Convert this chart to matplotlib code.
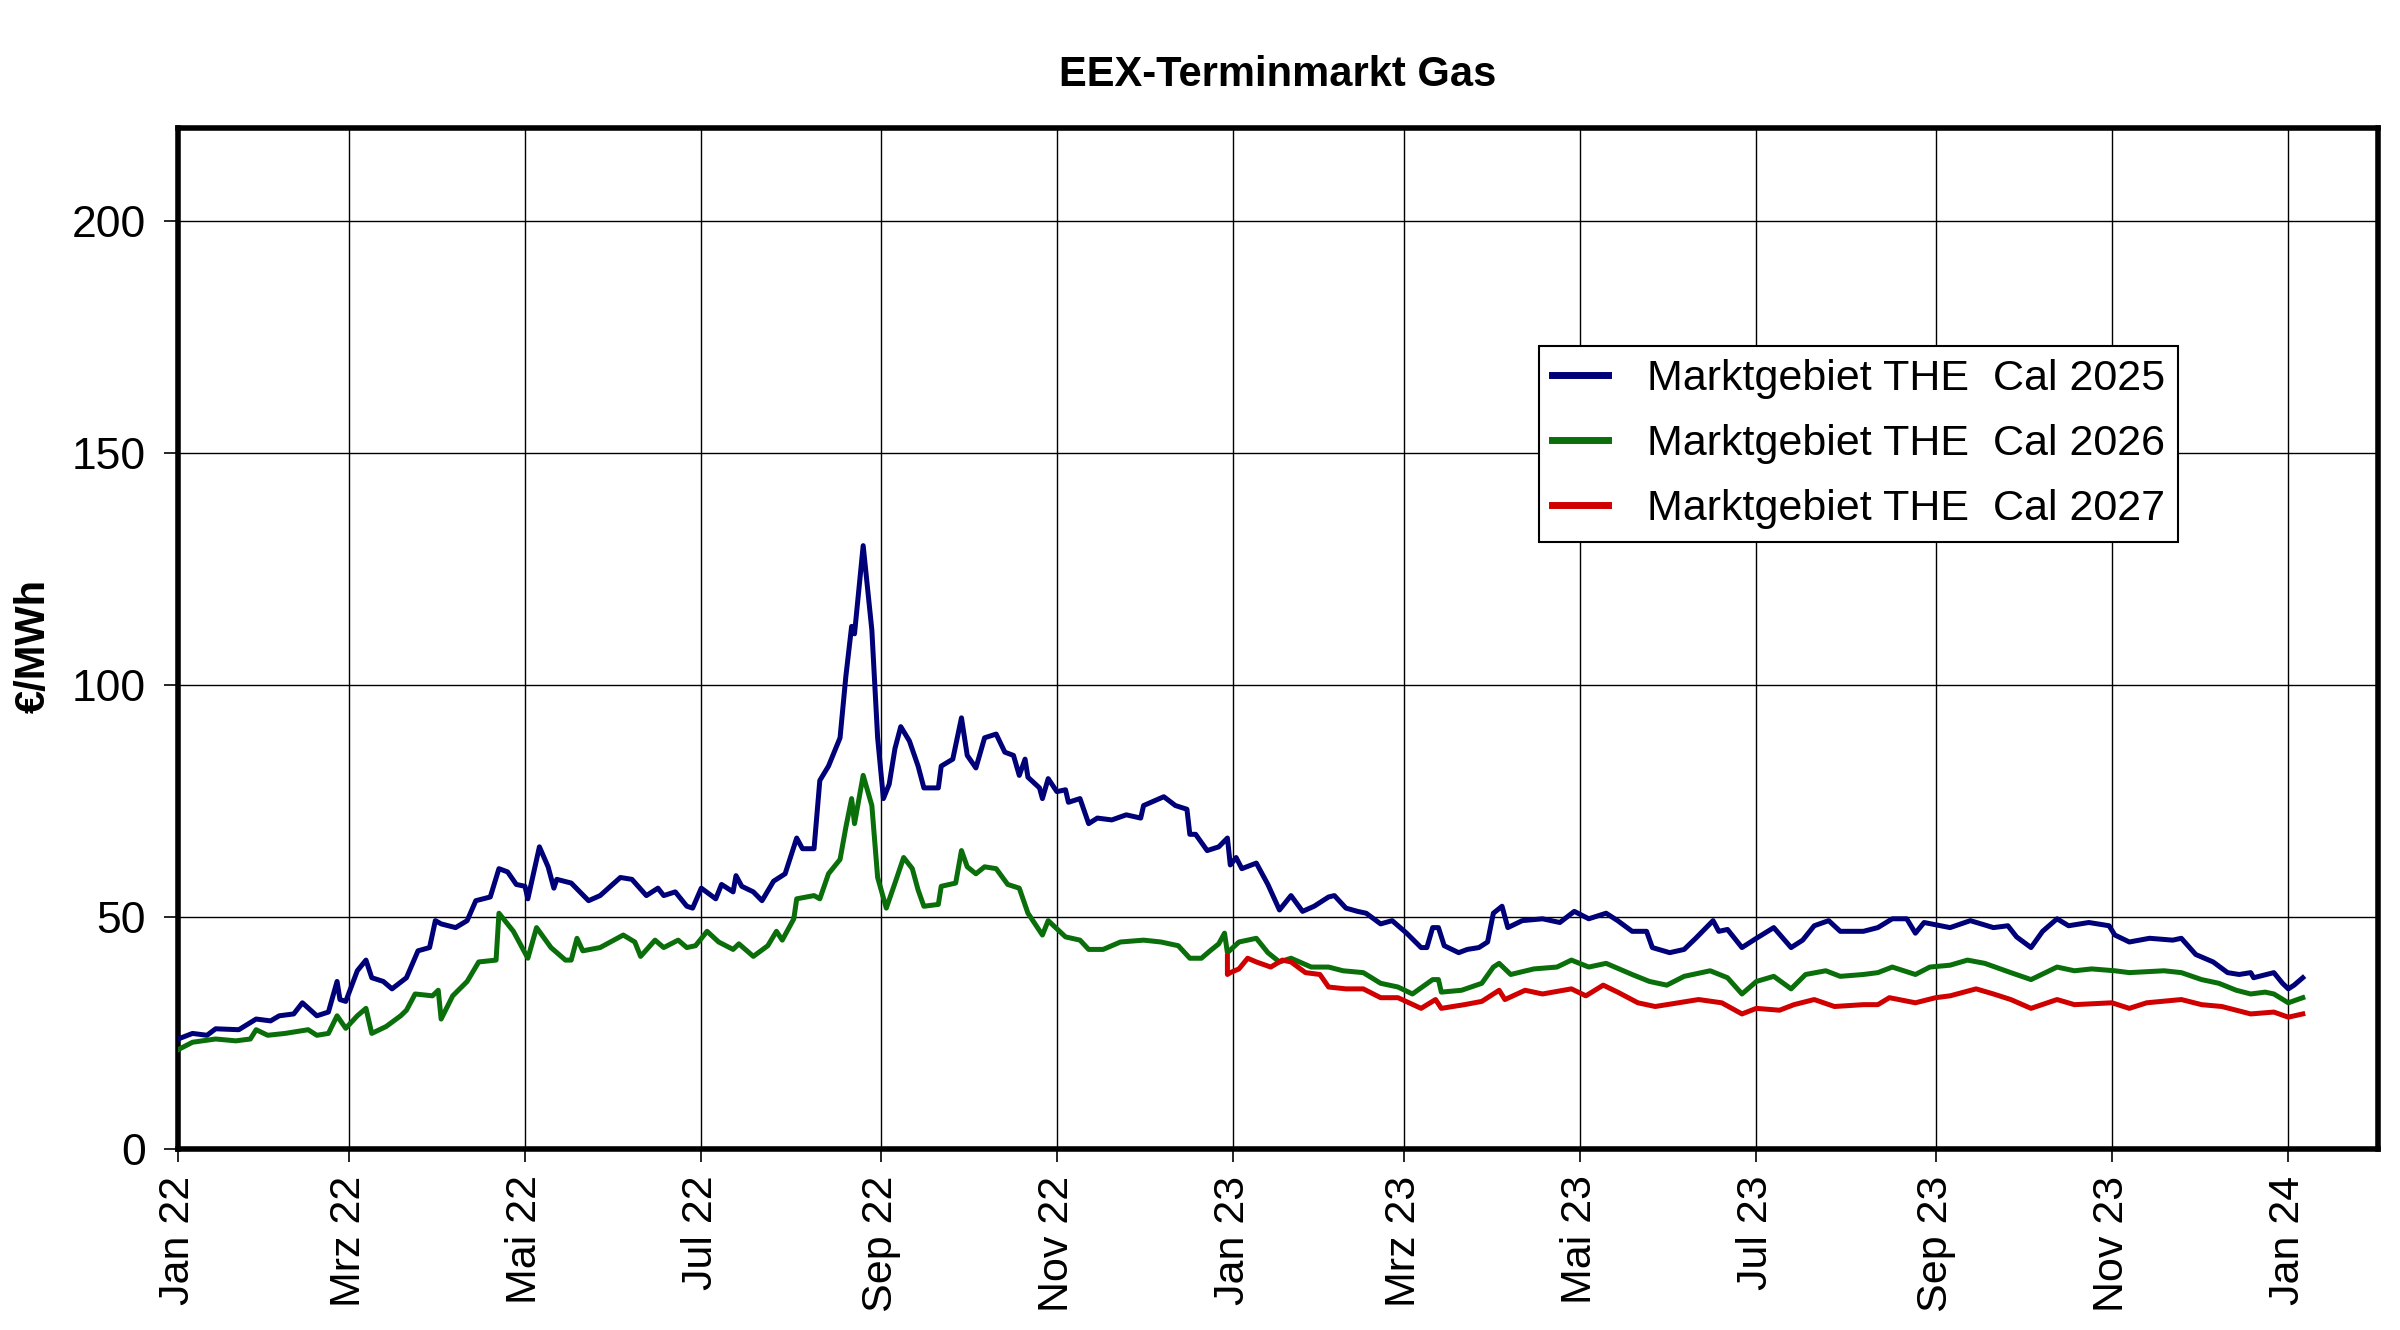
import numpy as np
import matplotlib
matplotlib.use("Agg")
import matplotlib.pyplot as plt

plt.rcParams['font.family'] = ['Liberation Sans', 'DejaVu Sans']

# days since 2022-01-01 and prices in EUR/MWh
cal25_days = [0, 5, 10, 13, 21, 27, 32, 35, 40, 43, 48, 52, 55, 56, 58, 62, 65, 67, 71, 74,
              79, 83, 87, 89, 91, 96, 100, 103, 108, 111, 114, 117, 120, 121, 125, 128, 130, 131, 136, 142,
              146, 153, 157, 162, 166, 168, 172, 176, 178, 181, 186, 188,
              192, 193, 195, 199, 202, 206, 210, 214, 216, 220, 222, 225, 229, 231, 233, 234, 237, 240, 242, 244,
              246, 248, 250, 253, 256, 258, 263, 264, 268, 271, 273, 276, 279, 283, 286, 289, 291, 293, 294, 298,
              299, 301, 304, 307, 308, 312, 315, 318, 323, 328, 333, 334, 341, 345, 349, 350, 352, 356, 360, 363,
              364, 366, 368, 373, 377, 381,
              385, 389, 393, 398, 400, 404, 408, 411, 416, 420, 425, 430, 432, 434, 436, 438, 443, 446, 450, 453,
              455, 458, 460, 465, 472, 478, 483, 488, 494, 498, 503, 508, 510, 516, 521, 525, 531, 533, 536, 541,
              546, 552, 558, 562, 566, 571, 575,
              583, 588, 593, 598, 601, 604, 613, 620, 628, 633, 636, 641, 645, 650, 654, 661, 668, 670, 675, 682,
              690, 693, 698, 704, 709, 713, 717, 718, 725, 728, 730, 732, 735]
cal25 = [23.7, 24.9, 24.5, 25.9, 25.7, 28.0, 27.6, 28.7, 29.1, 31.5, 28.7, 29.5, 36.1, 32.2, 31.8, 38.4, 40.7, 36.9, 36.1, 34.5,
         36.9, 42.7, 43.4, 49.2, 48.5, 47.7, 49.2, 53.5, 54.3, 60.4, 59.7, 57.0, 56.6, 53.9, 65.1, 60.8, 56.2, 58.1, 57.3, 53.5,
         54.6, 58.5, 58.1, 54.6, 56.2, 54.6, 55.4, 52.3, 51.9, 56.2, 53.9, 57.0,
         55.4, 58.9, 56.6, 55.4, 53.5, 57.7, 59.3, 67.0, 64.7, 64.7, 79.4, 82.5, 88.6, 101.8, 112.6, 111.0, 130.0, 111.8, 88.6, 75.5,
         78.6, 86.3, 91.0, 87.9, 82.5, 77.8, 77.8, 82.5, 84.0, 92.9, 84.8, 82.1, 88.6, 89.4, 85.5, 84.8, 80.5, 84.0, 80.1, 77.8,
         75.5, 79.8, 77.0, 77.4, 74.7, 75.5, 70.1, 71.3, 70.9, 72.0, 71.3, 74.0, 75.9, 74.0, 73.2, 67.8, 67.8, 64.3, 65.1, 67.0,
         61.2, 62.8, 60.4, 61.6, 57.0, 51.5,
         54.6, 51.2, 52.3, 54.3, 54.6, 51.9, 51.2, 50.8, 48.5, 49.2, 46.5, 43.4, 43.4, 47.7, 47.7, 43.8, 42.3, 43.0, 43.4, 44.6,
         50.8, 52.3, 47.7, 49.2, 49.6, 48.8, 51.2, 49.6, 50.8, 49.2, 46.9, 46.9, 43.4, 42.3, 43.0, 45.4, 49.2, 46.9, 47.3, 43.4,
         45.4, 47.7, 43.4, 45.0, 48.1, 49.2, 46.9,
         46.9, 47.7, 49.6, 49.6, 46.5, 48.8, 47.7, 49.2, 47.7, 48.1, 45.7, 43.4, 46.9, 49.6, 48.1, 48.8, 48.1, 46.1, 44.6, 45.4,
         45.0, 45.4, 41.9, 40.3, 38.0, 37.6, 38.0, 36.9, 38.0, 35.7, 34.5, 35.3, 36.9]

cal26_days = [0, 5, 13, 20, 25, 27, 31, 37, 45, 48, 52, 55, 58, 62, 65, 67, 72, 77, 79, 82,
              88, 90, 91, 95, 100, 104, 110, 111, 116, 121, 124, 129, 134, 136, 138, 140, 146, 154, 158, 160,
              165, 168, 173, 176, 179, 183, 187,
              192, 194, 199, 204, 207, 209, 213, 214, 220, 222, 225, 229, 231, 233, 234, 237, 240, 242, 245, 248,
              251, 254, 256, 258, 263, 264, 269, 271, 273, 276, 279, 283, 287, 291, 294, 299, 301, 307, 312, 315,
              320, 326, 334, 340, 346, 350, 354, 357, 360, 362, 363, 367, 373, 377, 381,
              385, 392, 398, 403, 410, 416, 422, 427, 434, 436, 437, 444, 451, 455, 457, 461, 469, 477, 482, 488,
              494, 503, 509, 515, 521, 530, 536, 541, 546, 552, 558, 563, 570, 575,
              583, 588, 593, 601, 606, 613, 619, 625, 634, 641, 650, 656, 662, 670, 675, 687, 693, 700, 706, 712,
              717, 722, 725, 730, 735]
cal26 = [21.4, 23.0, 23.7, 23.3, 23.7, 25.7, 24.5, 24.9, 25.7, 24.5, 24.9, 28.7, 26.0, 28.7, 30.3, 24.9, 26.4, 28.7, 29.9, 33.4,
         33.0, 34.2, 28.0, 33.0, 36.1, 40.3, 40.7, 50.8, 46.9, 41.1, 47.7, 43.4, 40.7, 40.7, 45.4, 42.7, 43.4, 46.1, 44.6, 41.5,
         45.0, 43.4, 45.0, 43.4, 43.8, 46.9, 44.6,
         43.0, 44.2, 41.5, 43.8, 46.9, 45.0, 49.6, 53.9, 54.6, 53.9, 59.3, 62.4, 69.3, 75.5, 70.1, 80.5, 74.0, 58.5, 51.9, 57.3,
         62.8, 60.4, 55.8, 52.3, 52.7, 56.6, 57.3, 64.3, 60.8, 59.3, 60.8, 60.4, 57.0, 56.2, 50.8, 46.1, 49.2, 45.7, 45.0, 43.0,
         43.0, 44.6, 45.0, 44.6, 43.8, 41.1, 41.1, 42.7, 44.2, 46.5, 42.3, 44.6, 45.4, 42.3, 40.3,
         41.1, 39.2, 39.2, 38.4, 38.0, 35.7, 34.9, 33.4, 36.5, 36.5, 33.8, 34.2, 35.7, 39.2, 40.0, 37.6, 38.8, 39.2, 40.7, 39.2,
         40.0, 37.6, 36.1, 35.3, 37.2, 38.4, 36.9, 33.4, 36.1, 37.2, 34.5, 37.6, 38.4, 37.2,
         37.6, 38.0, 39.2, 37.6, 39.2, 39.6, 40.7, 40.0, 38.0, 36.5, 39.2, 38.4, 38.8, 38.4, 38.0, 38.4, 38.0, 36.5, 35.7, 34.2,
         33.4, 33.8, 33.4, 31.5, 32.6]

cal27_days = [363, 363, 364, 367, 370, 373, 378, 382,
              385, 390, 395, 398, 404, 410, 416, 422, 430, 435, 437, 445, 451, 457, 459, 466, 472, 482, 487, 493,
              498, 505, 511, 519, 526, 534, 541, 546, 554, 559, 566, 573,
              583, 588, 592, 601, 608, 613, 622, 628, 634, 641, 650, 656, 669, 675, 681, 693, 700, 707, 717, 725,
              730, 735]
cal27 = [41.5, 37.6, 38.0, 38.8, 41.1, 40.3, 39.2, 40.7,
         40.3, 38.0, 37.6, 34.9, 34.5, 34.5, 32.6, 32.6, 30.3, 32.2, 30.3, 31.1, 31.8, 34.2, 32.2, 34.2, 33.4, 34.5, 33.0, 35.3,
         33.8, 31.5, 30.7, 31.5, 32.2, 31.5, 29.1, 30.3, 29.9, 31.1, 32.2, 30.7,
         31.1, 31.1, 32.6, 31.5, 32.6, 33.0, 34.5, 33.4, 32.2, 30.3, 32.2, 31.1, 31.5, 30.3, 31.5, 32.2, 31.1, 30.7, 29.1, 29.5,
         28.4, 29.1]

labels = ['Marktgebiet THE  Cal 2025', 'Marktgebiet THE  Cal 2026', 'Marktgebiet THE  Cal 2027']
colors = ['#000078', '#0a6e0a', '#d00000']

tick_dates = ['2022-01-01', '2022-03-01', '2022-05-01', '2022-07-01', '2022-09-01', '2022-11-01', '2023-01-01',
              '2023-03-01', '2023-05-01', '2023-07-01', '2023-09-01', '2023-11-01', '2024-01-01']
tick_labels = ['Jan 22', 'Mrz 22', 'Mai 22', 'Jul 22', 'Sep 22', 'Nov 22', 'Jan 23',
               'Mrz 23', 'Mai 23', 'Jul 23', 'Sep 23', 'Nov 23', 'Jan 24']

start = np.datetime64('2022-01-01')


def to_dates(days):
    return start + np.array(days, dtype='timedelta64[D]')


fig = plt.figure(figsize=(24, 13.3), dpi=100)
ax = fig.add_axes([0.0742, 0.1361, 0.9166, 0.7677])

for d, v, lab, col in zip([cal25_days, cal26_days, cal27_days], [cal25, cal26, cal27], labels, colors):
    ax.plot(to_dates(d), v, color=col, lw=3.6, label=lab, zorder=3)

ax.set_xlim(np.datetime64('2022-01-01'), np.datetime64('2024-02-01'))
ax.set_ylim(0, 220)
ax.set_yticks([0, 50, 100, 150, 200])
ax.set_xticks(np.array(tick_dates, dtype='datetime64[D]'))
ax.set_xticklabels(tick_labels, rotation=90, fontsize=31)
ax.tick_params(axis='y', labelsize=32, length=10, width=1.2, pad=13)
ax.tick_params(axis='x', length=9, width=1.2, pad=10)
ax.grid(True, color='black', lw=1.0)
ax.set_axisbelow(True)
for sp in ax.spines.values():
    sp.set_linewidth(4)

ax.set_title('EEX-Terminmarkt Gas', fontsize=30, fontweight='bold', pad=30)
fig.text(0.014, 0.514, '€/MWh', rotation=90, fontsize=30, fontweight='bold', ha='center', va='center')

leg = ax.legend(loc='upper right', bbox_to_anchor=(0.909, 0.786), fontsize=31, frameon=True,
                fancybox=False, framealpha=1, edgecolor='black', borderpad=0.3, labelspacing=0.58,
                handlelength=1.3, handletextpad=0.9, borderaxespad=0)
leg.get_frame().set_linewidth(1.5)
for line in leg.get_lines():
    line.set_linewidth(5)

fig.savefig('out.png', dpi=100)
